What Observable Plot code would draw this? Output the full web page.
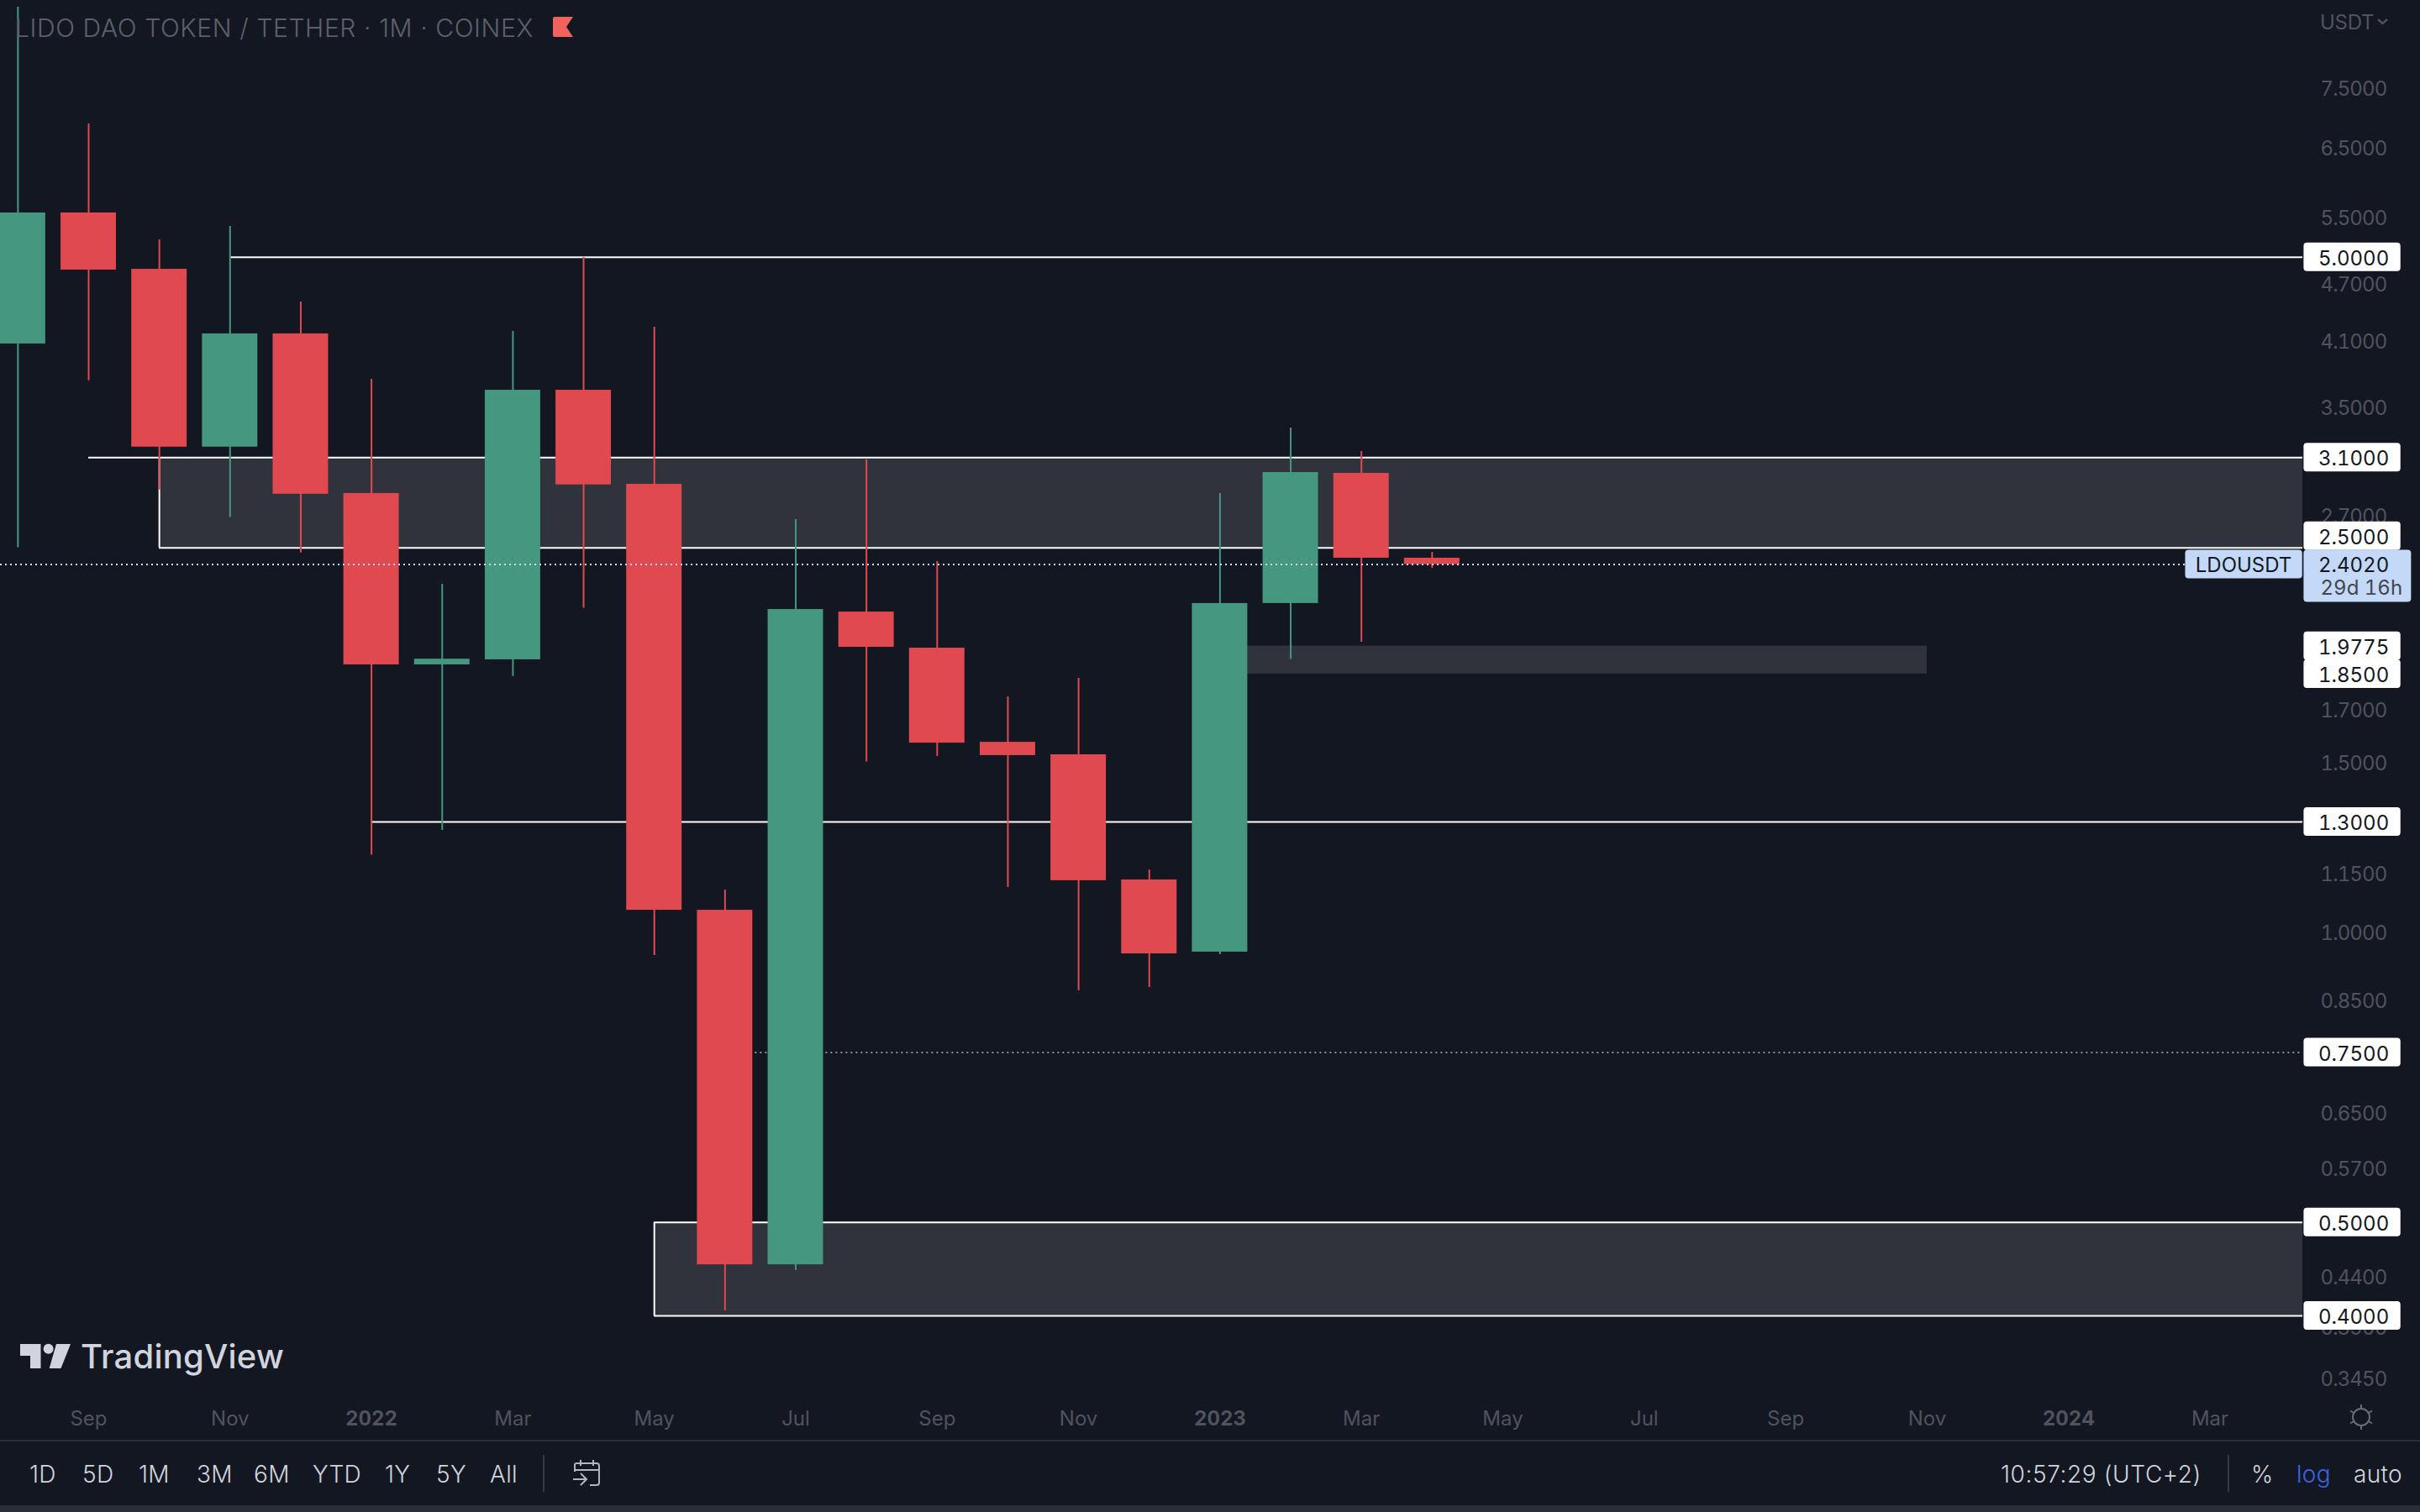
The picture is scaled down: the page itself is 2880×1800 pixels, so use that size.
<!DOCTYPE html>
<html>
<head>
<meta charset="utf-8">
<script src="https://cdn.jsdelivr.net/npm/d3@7"></script>
<script src="https://cdn.jsdelivr.net/npm/@observablehq/plot@0.6"></script>
<style>
  html, body { margin: 0; padding: 0; background: #131722; overflow: hidden; width: 2880px; height: 1800px; }
  #page { position: relative; width: 2880px; height: 1800px; font-family: Inter, Roboto, sans-serif; }
  #chart svg { display: block; }
  #chart [aria-label="y-axis tick label"], #chart [aria-label="price tag value"] { letter-spacing: -0.9px; }
  #chart [aria-label="countdown"] { letter-spacing: 0.3px; }
  .abs { position: absolute; white-space: nowrap; line-height: 1; }
  #title { left: 18px; top: 18px; font-size: 30px; font-weight: 300; color: #5d606b; letter-spacing: 0.6px; }
  #logoText { left: 96px; top: 1595px; font-size: 40px; font-weight: 500; color: #d1d4dc; letter-spacing: 0.2px; }
  #usdt { left: 2761px; top: 15px; font-size: 24px; color: #50535e; letter-spacing: -0.3px; }
  #bar { position: absolute; left: 0; top: 1714px; width: 2880px; height: 78px; border-top: 2px solid #2a2e39; box-sizing: border-box; }
  #strip { position: absolute; left: 0; top: 1792px; width: 2880px; height: 8px; background: #2a2e39; }
  .tb { position: absolute; top: 1741px; font-size: 28px; font-weight: 300; color: #d1d4dc; white-space: nowrap; line-height: 1; letter-spacing: 0.3px; }
  .div { position: absolute; top: 1732px; width: 2px; height: 44px; background: #363a45; }
  svg.icon { position: absolute; overflow: visible; }
</style>
</head>
<body>
<div id="page">
  <div id="chart"></div>

  <div class="abs" id="title">LIDO DAO TOKEN / TETHER · 1M · COINEX</div>
  <svg class="icon" style="left:658px;top:20px" width="24" height="24"><path d="M0 2 Q0 0 2 0 H24 L16 12 L24 24 H2 Q0 24 0 22 Z" fill="#f0625a"/></svg>

  <svg class="icon" style="left:24px;top:1600px" width="60" height="30">
    <path d="M0 0 H24.5 V29 H12 V14 H0 Z" fill="#d1d4dc"/>
    <circle cx="33.6" cy="5.8" r="6" fill="#d1d4dc"/>
    <path d="M43 0 H60 L48.5 29 H34.7 Z" fill="#d1d4dc"/>
  </svg>
  <div class="abs" id="logoText">TradingView</div>

  <div class="abs" id="usdt">USDT</div>
  <svg class="icon" style="left:2829px;top:22px" width="13" height="8"><path d="M1 1 L6.5 6 L12 1" fill="none" stroke="#50535e" stroke-width="2.4"/></svg>

  <svg class="icon" style="left:2794px;top:1671px" width="32" height="32" viewBox="0 0 32 32">
    <circle cx="16" cy="16" r="10" fill="none" stroke="#6a6d78" stroke-width="2"/>
    <path d="M16 1V6M16 26V31M3 8.5L7.3 11M24.7 21L29 23.5M3 23.5L7.3 21M24.7 11L29 8.5" stroke="#6a6d78" stroke-width="2" fill="none"/>
  </svg>

  <div id="bar"></div>
  <div id="strip"></div>
  <span class="tb" style="left:35px">1D</span>
  <span class="tb" style="left:98px">5D</span>
  <span class="tb" style="left:165px">1M</span>
  <span class="tb" style="left:234px">3M</span>
  <span class="tb" style="left:302px">6M</span>
  <span class="tb" style="left:372px">YTD</span>
  <span class="tb" style="left:458px">1Y</span>
  <span class="tb" style="left:519px">5Y</span>
  <span class="tb" style="left:583px">All</span>
  <div class="div" style="left:646px"></div>
  <svg class="icon" style="left:680px;top:1738px" width="34" height="32" viewBox="0 0 34 32">
    <path d="M4 14 V6 Q4 4 6 4 H30 Q33 4 33 7 V27 Q33 30 30 30 H22 M4 12 H33 M11 0 V7 M26 0 V7 M2 23 H17 M11 16 L18 23 L11 30" fill="none" stroke="#b2b5be" stroke-width="2"/>
  </svg>
  <span class="tb" style="left:2381px;letter-spacing:0.6px">10:57:29 (UTC+2)</span>
  <div class="div" style="left:2651px"></div>
  <span class="tb" style="left:2679px">%</span>
  <span class="tb" style="left:2733px;color:#3a66e0">log</span>
  <span class="tb" style="left:2801px">auto</span>
</div>

<script>
// Monthly candles, Aug 2021 to Apr 2023
const barMonth = ["2021-08","2021-09","2021-10","2021-11","2021-12","2022-01","2022-02","2022-03","2022-04","2022-05","2022-06","2022-07","2022-08","2022-09","2022-10","2022-11","2022-12","2023-01","2023-02","2023-03","2023-04"];
const barIndex = [-1,0,1,2,3,4,5,6,7,8,9,10,11,12,13,14,15,16,17,18,19];
const open  = [4.066,5.558,4.859,3.179,4.165,2.846,1.891,1.914,3.641,2.909,1.053,0.452,2.145,1.968,1.572,1.526,1.132,0.953,2.189,2.986,2.439];
const close = [5.558,4.850,3.179,4.165,2.841,1.891,1.917,3.641,2.905,1.053,0.452,2.158,1.972,1.569,1.523,1.130,0.949,2.189,2.992,2.439,2.402];
const high  = [9.080,6.873,5.212,5.382,4.494,3.737,2.292,4.190,5.000,4.232,1.105,2.674,3.085,2.420,1.752,1.831,1.159,2.846,3.327,3.146,2.473];
const low   = [2.501,3.725,2.870,2.688,2.469,1.201,1.274,1.839,2.165,0.945,0.405,0.446,1.500,1.520,1.112,0.869,0.876,0.947,1.917,1.996,2.381];

// Axis labels
const xTicks = [0,2,4,6,8,10,12,14,16,18,20,22,24,26,28,30];
const xLabels = ["Sep","Nov","2022","Mar","May","Jul","Sep","Nov","2023","Mar","May","Jul","Sep","Nov","2024","Mar"];
const yTicks = [7.5,6.5,5.5,4.7,4.1,3.5,2.7,1.7,1.5,1.15,1,0.85,0.65,0.57,0.44,0.39,0.345];

// Drawn levels and zones
const xStart = -1.2478, xEnd = 31.313;
const levels = [{p:5.0,from:2},{p:3.1,from:0},{p:2.5,from:1},{p:1.3,from:4},{p:0.5,from:8},{p:0.4,from:8}];
const zones = [{hi:3.1,lo:2.5,from:1,to:xEnd},{hi:1.9775,lo:1.85,from:16,to:26},{hi:0.5,lo:0.4,from:8,to:xEnd}];
const sideEdges = [{hi:3.1,lo:2.5,at:1},{hi:0.5,lo:0.4,at:8}];
const tagPrices = [5.0,3.1,1.9775,1.85,1.3,0.75,0.5,0.4];
const raisedTag = [2.5];
const lastPrice = 2.402;

const candles = barMonth.map((m,i)=>({m,i:barIndex[i],o:open[i],c:close[i],h:high[i],l:low[i]}));
const red = "#e0494f", green = "#45977f", ink = "#131722", muted = "#50535e";
const half = 0.392;
const tagL = 31.33, tagR = 32.70;
const fmt = d3.format(".4f");

const chart = Plot.plot({
  width: 2880, height: 1714,
  marginLeft: 0, marginRight: 140, marginTop: 0, marginBottom: 54,
  style: {background: "transparent", fontFamily: "Inter, Roboto, sans-serif", fontSize: "24px", overflow: "hidden"},
  x: {type: "linear", domain: [xStart, xEnd]},
  y: {type: "log", domain: [0.3314, 9.227]},
  marks: [
    Plot.axisX({ticks: xTicks.filter((t,k)=>!/^\d/.test(xLabels[k])), tickFormat: t=>xLabels[xTicks.indexOf(t)], tickSize: 0, tickPadding: 19, color: muted, label: null}),
    Plot.axisX({ticks: xTicks.filter((t,k)=>/^\d/.test(xLabels[k])), tickFormat: t=>xLabels[xTicks.indexOf(t)], tickSize: 0, tickPadding: 19, color: muted, fontWeight: 700, label: null}),
    // Explicit tick data; an infinite count stops the log scale from thinning the labels
    Plot.axisY(yTicks, {anchor: "right", ticks: Infinity, tickFormat: fmt, tickSize: 0, tickPadding: 21, dy: 2, color: muted, label: null}),

    Plot.rect(zones, {x1: "from", x2: "to", y1: "lo", y2: "hi", fill: "#30333c"}),
    Plot.ruleY(levels, {y: "p", x1: "from", x2: xEnd, stroke: "#ffffff", strokeWidth: 2}),
    Plot.ruleX(sideEdges, {x: "at", y1: "lo", y2: "hi", stroke: "#ffffff", strokeWidth: 2}),
    Plot.ruleY([0.75], {x1: 9, x2: xEnd, stroke: "#8b8e96", strokeWidth: 2, strokeDasharray: "2,4"}),

    Plot.ruleX(candles, {x: "i", y1: "l", y2: "h", stroke: d=>d.c>=d.o?green:red, strokeWidth: 2}),
    Plot.rect(candles, {x1: d=>d.i-half, x2: d=>d.i+half, y1: "o", y2: "c", fill: d=>d.c>=d.o?green:red}),

    Plot.ruleY([lastPrice], {x1: xStart, x2: 29.655, stroke: "#c9dcf8", strokeWidth: 2, strokeDasharray: "2,4"}),

    Plot.rect(tagPrices, {x1: tagL, x2: tagR, y1: d=>d, y2: d=>d, insetTop: -17, insetBottom: -17, fill: "#ffffff", rx: 4}),
    Plot.text(tagPrices, {x: tagR, y: d=>d, text: fmt, dx: -14, dy: 2, textAnchor: "end", fill: ink, fontVariant: "tabular-nums", ariaLabel: "price tag value"}),
    Plot.rect(raisedTag, {x1: tagL, x2: tagR, y1: d=>d, y2: d=>d, insetTop: -31, insetBottom: -3, fill: "#ffffff", rx: 4}),
    Plot.text(raisedTag, {x: tagR, y: d=>d, text: fmt, dx: -14, dy: -12, textAnchor: "end", fill: ink, fontVariant: "tabular-nums", ariaLabel: "price tag value"}),

    Plot.rect([lastPrice], {x1: tagL, x2: 32.85, y1: d=>d, y2: d=>d, insetTop: -17, insetBottom: -45, fill: "#c3d9f7", rx: 4}),
    Plot.text([lastPrice], {x: tagR, y: d=>d, text: fmt, dx: -14, dy: 1, textAnchor: "end", fill: ink, fontVariant: "tabular-nums", ariaLabel: "price tag value"}),
    Plot.text(["29d 16h"], {x: xEnd, y: [lastPrice], text: d=>d, dx: 21, dy: 28, textAnchor: "start", fill: "#43464f", fontVariant: "tabular-nums", ariaLabel: "countdown"}),
    Plot.rect(["LDOUSDT"], {x1: 29.655, x2: 31.31, y1: [lastPrice], y2: [lastPrice], insetTop: -17, insetBottom: -17, fill: "#c3d9f7", rx: 4}),
    Plot.text(["LDOUSDT"], {x: 30.476, y: [lastPrice], text: d=>d, dy: 1, textAnchor: "middle", fill: ink})
  ]
});
document.getElementById("chart").appendChild(chart);
</script>
</body>
</html>
